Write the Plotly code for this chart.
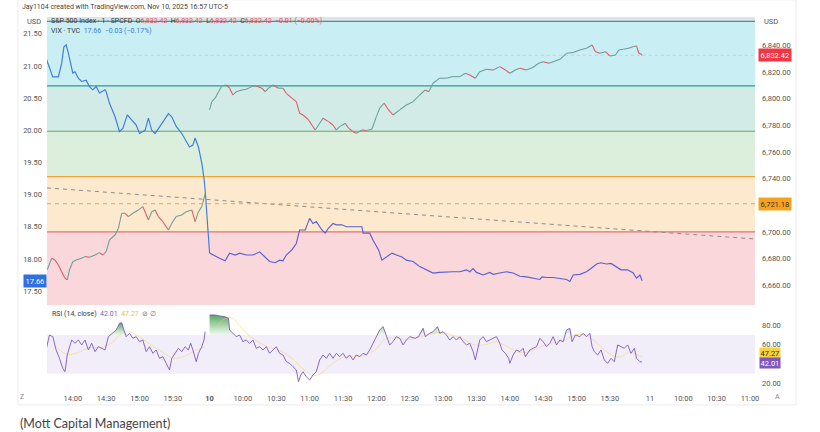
import plotly.graph_objects as go

TITLE = "Jay1104 created with TradingView.com, Nov 10, 2025 16:57 UTC-5"
CAPTION = "(Mott Capital Management)"

# ---------------- VIX (left axis) ----------------
VIX_D1_TIME = ["13:36","13:39","13:42","13:47","13:50","13:52","13:54","13:56","13:59","14:00","14:02","14:05",
               "14:08","14:12","14:15","14:18","14:21","14:24","14:29","14:30","14:33","14:38","14:42","14:45",
               "14:49","14:53","14:57","15:00","15:05","15:08","15:11","15:14","15:17","15:21","15:26","15:29",
               "15:33","15:38","15:42","15:45","15:48","15:50","15:53","15:56","15:58","15:59"]
VIX_D1 = [21.12,20.99,20.83,20.83,21.04,21.30,21.33,21.20,20.99,20.89,20.91,20.81,
          20.76,20.78,20.68,20.63,20.68,20.58,20.63,20.60,20.42,20.21,19.98,20.03,
          20.24,20.16,20.08,19.95,20.00,20.19,20.00,19.95,20.03,20.13,20.26,20.21,
          20.06,19.95,19.82,19.74,19.77,19.88,19.74,19.49,19.25,19.08]
VIX_D2_TIME = ["09:30","09:33","09:39","09:44","09:48","09:53","09:57","10:03","10:09","10:15","10:20","10:24",
               "10:29","10:33","10:36","10:39","10:44","10:48","10:51","10:56","11:00","11:03","11:06","11:11",
               "11:14","11:17","11:21","11:24","11:29","11:33","11:38","11:42","11:47","11:48","11:54","11:57",
               "12:02","12:05","12:09","12:14","12:18","12:23","12:27","12:33","12:39","12:45","12:51","12:57",
               "13:03","13:09","13:15","13:21","13:24","13:27","13:30","13:36","13:42","13:45","13:51","13:57",
               "14:03","14:09","14:15","14:21","14:27","14:29","14:33","14:39","14:45","14:51","14:54","14:57",
               "15:03","15:09","15:13","15:18","15:22","15:27","15:31","15:36","15:40","15:46","15:51","15:54",
               "15:57","15:59"]
VIX_D2 = [18.09,18.06,18.01,17.97,18.09,18.06,18.09,18.06,18.06,18.11,18.03,17.96,
          17.94,17.98,17.97,18.06,18.14,18.24,18.45,18.45,18.63,18.55,18.58,18.45,
          18.40,18.48,18.55,18.53,18.53,18.50,18.50,18.50,18.50,18.40,18.40,18.29,
          18.14,17.98,18.03,18.09,18.06,18.03,17.98,17.96,17.88,17.83,17.78,17.79,
          17.80,17.80,17.80,17.83,17.80,17.85,17.79,17.75,17.79,17.76,17.78,17.80,
          17.78,17.73,17.72,17.70,17.68,17.72,17.71,17.71,17.70,17.68,17.65,17.75,
          17.76,17.80,17.85,17.92,17.94,17.92,17.93,17.88,17.83,17.83,17.78,17.70,
          17.75,17.66]

# ---------------- S&P 500 CFD (right axis) ----------------
SPX_D1_TIME = ["13:37","13:41","13:44","13:47","13:50","13:53","13:55","13:57","14:00","14:03","14:08","14:11",
               "14:15","14:20","14:24","14:27","14:30","14:33","14:38","14:41","14:44","14:47","14:50","14:54",
               "14:59","15:03","15:08","15:11","15:14","15:17","15:21","15:26","15:29","15:33","15:38","15:42",
               "15:47","15:50","15:53","15:56","15:58","15:59"]
SPX_D1 = [6671.5,6680.3,6679.0,6675.2,6670.2,6665.3,6664.0,6671.5,6677.7,6679.0,6680.3,6681.5,
          6681.0,6682.7,6684.5,6682.7,6685.2,6694.0,6697.7,6702.8,6714.0,6714.0,6711.5,6714.0,
          6716.5,6719.0,6709.0,6715.2,6716.5,6711.5,6707.7,6701.5,6706.5,6711.5,6712.7,6715.2,
          6716.5,6707.7,6715.2,6719.0,6725.3,6728.5]
SPX_D2_TIME = ["09:30","09:32","09:35","09:38","09:41","09:45","09:48","09:51","09:54","09:59","10:03","10:08",
               "10:12","10:17","10:20","10:23","10:27","10:32","10:36","10:39","10:44","10:48","10:51","10:54",
               "10:59","11:02","11:05","11:08","11:12","11:17","11:21","11:24","11:27","11:32","11:35","11:39",
               "11:42","11:47","11:51","11:56","12:00","12:03","12:07","12:11","12:15","12:21","12:27","12:33",
               "12:39","12:44","12:47","12:51","12:57","13:03","13:09","13:15","13:20","13:24","13:29","13:33",
               "13:39","13:45","13:51","13:56","14:00","14:05","14:09","14:15","14:21","14:26","14:30","14:35",
               "14:39","14:45","14:51","14:57","15:03","15:09","15:14","15:17","15:21","15:26","15:30","15:35",
               "15:38","15:42","15:47","15:51","15:54","15:56","15:58","15:59"]
SPX_D2 = [6791.5,6797.7,6800.3,6805.2,6809.5,6810.2,6807.8,6802.7,6805.2,6806.5,6807.0,6809.0,
          6809.5,6807.8,6805.2,6807.8,6810.2,6807.8,6807.8,6804.0,6800.3,6797.7,6789.0,6787.7,
          6784.0,6780.2,6776.5,6780.2,6785.3,6782.7,6780.2,6776.5,6779.0,6781.5,6777.8,6775.2,
          6774.0,6776.5,6776.0,6777.0,6786.5,6792.8,6796.5,6791.5,6787.7,6791.5,6795.2,6797.7,
          6802.7,6806.5,6805.2,6811.5,6815.3,6815.3,6816.5,6816.5,6819.0,6817.7,6815.3,6820.2,
          6822.0,6821.5,6824.0,6821.5,6819.0,6821.5,6822.8,6821.5,6823.5,6826.5,6827.7,6826.5,
          6827.7,6829.5,6834.0,6834.5,6836.5,6837.8,6840.2,6835.2,6834.0,6835.2,6832.0,6832.7,
          6836.5,6837.0,6837.8,6839.0,6839.5,6834.0,6833.5,6832.42]

# ---------------- RSI (14, close) ----------------
RSI_D1_TIME = ["13:36","13:39","13:42","13:45","13:48","13:51","13:53","13:55","13:59","14:02","14:05","14:08",
               "14:11","14:14","14:17","14:20","14:23","14:26","14:29","14:32","14:36","14:39","14:42","14:44",
               "14:46","14:48","14:51","14:54","14:57","15:00","15:03","15:06","15:09","15:12","15:15","15:18",
               "15:21","15:24","15:27","15:29","15:32","15:35","15:38","15:41","15:44","15:46","15:48","15:51",
               "15:53","15:56","15:58","15:59"]
RSI_D1 = [54.6,70.1,68.4,54.6,45.9,35.6,32.0,49.4,64.9,61.5,64.9,59.8,
          64.9,54.6,61.5,52.8,58.0,56.3,54.6,68.4,71.9,75.3,82.3,82.9,
          75.3,68.4,71.9,66.7,68.4,63.2,64.9,52.8,58.0,51.1,54.6,45.9,
          47.6,40.7,33.8,45.9,51.1,56.3,52.8,58.0,54.6,61.5,54.6,42.4,
          51.1,58.0,64.9,73.6]
RSI_D2_TIME = ["09:30","09:35","09:39","09:44","09:47","09:48","09:51","09:54","09:57","10:00","10:03","10:06",
               "10:09","10:12","10:15","10:18","10:21","10:24","10:27","10:30","10:33","10:36","10:39","10:42",
               "10:45","10:48","10:50","10:52","10:54","10:57","11:00","11:03","11:06","11:09","11:12","11:15",
               "11:18","11:21","11:24","11:27","11:30","11:33","11:36","11:39","11:42","11:45","11:48","11:51",
               "11:54","11:57","12:00","12:03","12:06","12:09","12:12","12:15","12:18","12:21","12:24","12:27",
               "12:30","12:35","12:38","12:42","12:44","12:48","12:51","12:55","12:57","13:00","13:03","13:06",
               "13:09","13:12","13:15","13:18","13:21","13:24","13:27","13:29","13:31","13:33","13:36","13:39",
               "13:42","13:45","13:48","13:51","13:53","13:56","13:59","14:00","14:03","14:06","14:09","14:12",
               "14:14","14:18","14:21","14:24","14:27","14:30","14:33","14:36","14:39","14:42","14:45","14:48",
               "14:51","14:54","14:56","14:59","15:03","15:06","15:09","15:12","15:14","15:16","15:19","15:22",
               "15:25","15:28","15:31","15:34","15:37","15:40","15:43","15:46","15:49","15:52","15:54","15:57",
               "15:59"]
RSI_D2 = [90.9,90.9,89.9,89.1,87.5,75.3,71.9,68.4,70.1,63.2,64.9,61.5,
          64.9,56.3,58.0,54.6,58.0,51.1,54.6,58.0,51.1,49.4,42.4,40.7,
          37.2,33.8,21.6,28.6,32.0,26.8,23.4,28.6,32.0,44.2,49.4,45.9,
          51.1,45.9,51.1,47.6,51.1,45.9,49.4,44.2,49.4,47.6,51.1,49.4,
          54.6,61.5,68.4,75.3,78.8,68.4,59.8,63.2,68.4,66.7,59.8,64.9,
          68.4,66.7,68.4,77.1,68.4,71.9,73.6,78.8,71.9,73.6,70.1,64.9,
          68.4,64.9,68.4,63.2,59.8,61.5,52.8,44.2,56.3,64.9,68.4,63.2,
          64.9,66.7,68.4,61.5,54.6,51.1,45.9,40.7,49.4,54.6,52.8,56.3,
          47.6,54.6,56.3,58.0,66.7,63.2,58.0,61.5,68.4,59.8,64.9,63.2,
          75.3,77.1,63.2,70.1,68.4,71.9,68.4,71.9,58.0,52.8,49.4,54.6,
          44.2,40.7,45.9,42.4,59.8,58.0,56.3,59.8,51.1,56.3,45.9,42.4,
          42.01]
RSI_MA_D1_TIME = ["13:45","13:55","14:05","14:15","14:25","14:35","14:42","14:50","15:00","15:10","15:20","15:30",
                  "15:40","15:50","15:59"]
RSI_MA_D1 = [58,50,52,57,57,62,70,74,68,60,53,46,48,54,58]
RSI_MA_D2_TIME = ["09:35","09:42","09:50","09:57","10:05","10:15","10:25","10:35","10:45","10:55","11:03","11:10",
                  "11:20","11:30","11:40","11:50","12:00","12:08","12:18","12:28","12:38","12:48","12:58","13:08",
                  "13:18","13:28","13:38","13:48","13:58","14:08","14:18","14:28","14:38","14:48","14:58","15:08",
                  "15:18","15:28","15:38","15:48","15:59"]
RSI_MA_D2 = [76,86,88,80,70,62,57,53,45,34,28,30,
             40,47,48,49,56,66,67,65,68,71,73,70,
             66,60,60,63,58,52,53,58,62,64,70,70,
             62,52,47,52,47.27]

# ---------------- drawings / levels ----------------
FIB_LEVELS = [6857.9, 6809.5, 6775.5, 6741.5, 6700.0]
TREND_START, TREND_END = 6733.0, 6694.7
H_LEVEL = 6721.18
LAST_SPX, LAST_VIX, LAST_RSI, LAST_RSI_MA = 6832.42, 17.66, 42.01, 47.27
SPX_TICKS = [6840, 6820, 6800, 6780, 6760, 6740, 6700, 6680, 6660]
VIX_TICKS = [21.5, 21.0, 20.5, 20.0, 19.5, 19.0, 18.5, 18.0, 17.5]
RSI_TICKS = [80, 60, 20]
X_TICKS = [(1, "14:00", "14:00"), (1, "14:30", "14:30"), (1, "15:00", "15:00"), (1, "15:30", "15:30"),
           (2, "09:30", "<b>10</b>"), (2, "10:00", "10:00"), (2, "10:30", "10:30"), (2, "11:00", "11:00"),
           (2, "11:30", "11:30"), (2, "12:00", "12:00"), (2, "12:30", "12:30"), (2, "13:00", "13:00"),
           (2, "13:30", "13:30"), (2, "14:00", "14:00"), (2, "14:30", "14:30"), (2, "15:00", "15:00"),
           (2, "15:30", "15:30"), (3, "09:30", "11"), (3, "10:00", "10:00"), (3, "10:30", "10:30"),
           (3, "11:00", "11:00")]


def bar_index(day, hhmm):
    h, m = map(int, hhmm.split(":"))
    t = h * 60 + m
    if day == 1:
        return t - 960 - 3
    if day == 2:
        return t - 570
    return t - 570 + 396


def xs(day, times):
    return [bar_index(day, t) for t in times]


X0, X1 = -146.2, 490.5
SPX_RANGE = [6645.2, 6861.2]
VIX_RANGE = [17.283, 21.762]
RSI_RANGE = [13.0, 100.25]

fig = go.Figure()

# VIX lines
x1 = xs(1, VIX_D1_TIME) + [bar_index(2, VIX_D2_TIME[0])]
fig.add_trace(go.Scatter(x=x1, y=VIX_D1 + [VIX_D2[0]], mode="lines",
                         line=dict(color="#3b7ddd", width=1.15), xaxis="x", yaxis="y", hoverinfo="skip"))
fig.add_trace(go.Scatter(x=xs(2, VIX_D2_TIME), y=VIX_D2, mode="lines",
                         line=dict(color="#5d5fd0", width=1.15), xaxis="x", yaxis="y", hoverinfo="skip"))


# SPX: segments coloured by direction (1-minute candles look like this)
def segments(xv, yv):
    ux, uy, dx, dy = [], [], [], []
    for i in range(1, len(xv)):
        if yv[i] >= yv[i - 1]:
            ux += [xv[i - 1], xv[i], None]; uy += [yv[i - 1], yv[i], None]
        else:
            dx += [xv[i - 1], xv[i], None]; dy += [yv[i - 1], yv[i], None]
    return ux, uy, dx, dy


for day, tt, vv in [(1, SPX_D1_TIME, SPX_D1), (2, SPX_D2_TIME, SPX_D2)]:
    ux, uy, dx, dy = segments(xs(day, tt), vv)
    fig.add_trace(go.Scatter(x=ux, y=uy, mode="lines", line=dict(color="#6a9e98", width=1.05),
                             xaxis="x", yaxis="y2", hoverinfo="skip"))
    fig.add_trace(go.Scatter(x=dx, y=dy, mode="lines", line=dict(color="#e05866", width=1.05),
                             xaxis="x", yaxis="y2", hoverinfo="skip"))

# trend line + horizontal level
fig.add_trace(go.Scatter(x=[X0, X1], y=[TREND_START, TREND_END], mode="lines",
                         line=dict(color="#8c8c8c", width=1, dash="4px,4px"), xaxis="x", yaxis="y2",
                         hoverinfo="skip"))
fig.add_trace(go.Scatter(x=[X0, X1], y=[H_LEVEL, H_LEVEL], mode="lines",
                         line=dict(color="#f2a33a", width=1, dash="4px,4px"), xaxis="x", yaxis="y2",
                         hoverinfo="skip"))

# RSI overbought fill, RSI-MA and RSI line
for day, tt, vv in [(1, RSI_D1_TIME, RSI_D1), (2, RSI_D2_TIME, RSI_D2)]:
    xv = xs(day, tt)
    fig.add_trace(go.Scatter(x=xv, y=[70] * len(xv), mode="lines", line=dict(width=0),
                             xaxis="x2", yaxis="y3", hoverinfo="skip"))
    fig.add_trace(go.Scatter(x=xv, y=[max(v, 70) for v in vv], mode="lines", line=dict(width=0),
                             fill="tonexty", fillcolor="rgba(76,175,80,0.5)",
                             fillgradient=dict(type="vertical",
                                               colorscale=[[0, "rgba(76,175,80,0.08)"],
                                                           [1, "rgba(56,150,70,0.85)"]]),
                             xaxis="x2", yaxis="y3", hoverinfo="skip"))
for day, tt, vv in [(1, RSI_MA_D1_TIME, RSI_MA_D1), (2, RSI_MA_D2_TIME, RSI_MA_D2)]:
    fig.add_trace(go.Scatter(x=xs(day, tt), y=vv, mode="lines", line=dict(color="rgba(247,205,90,0.5)", width=1),
                             line_shape="spline", xaxis="x2", yaxis="y3", hoverinfo="skip"))
for day, tt, vv in [(1, RSI_D1_TIME, RSI_D1), (2, RSI_D2_TIME, RSI_D2)]:
    fig.add_trace(go.Scatter(x=xs(day, tt), y=vv, mode="lines", line=dict(color="#7e57c2", width=0.9),
                             xaxis="x2", yaxis="y3", hoverinfo="skip"))

# ---------------- shapes ----------------
band_colors = ["#dfe2e6", "#c9eef3", "#d3ebe7", "#dbefdc", "#fde9cd", "#f9d7db"]
line_colors = ["#2aa39a", "#2a9d8f", "#55ad63", "#f3a53a", "#e8706e"]
edges = [SPX_RANGE[1]] + FIB_LEVELS + [SPX_RANGE[0]]
shapes = []
for i, c in enumerate(band_colors):
    shapes.append(dict(type="rect", xref="x domain", yref="y2", x0=0, x1=1, y0=edges[i + 1], y1=edges[i],
                       fillcolor=c, line=dict(width=0), layer="below"))
for lv, c in zip(FIB_LEVELS, line_colors):
    shapes.append(dict(type="line", xref="x domain", yref="y2", x0=0, x1=1, y0=lv, y1=lv,
                       line=dict(color=c, width=1.2), layer="below"))
shapes.append(dict(type="line", xref="x domain", yref="y2", x0=0.045, x1=1, y0=LAST_SPX, y1=LAST_SPX,
                   line=dict(color="rgba(200,200,205,0.7)", width=1, dash="dot"), layer="below"))
shapes.append(dict(type="rect", xref="x2 domain", yref="y3", x0=0, x1=1, y0=30, y1=70,
                   fillcolor="rgba(126,87,194,0.1)", line=dict(width=0), layer="below"))
shapes.append(dict(type="rect", xref="paper", yref="paper", x0=-0.041, x1=1.058, y0=-0.040, y1=1.046,
                   fillcolor="rgba(0,0,0,0)", line=dict(color="#ececec", width=1), layer="below"))


def px_x(px):
    return (px - 47) / 708.0


def px_y(py):
    return (390 - py) / 373.0


TXT = "#3a3a3a"
RED = "#e8505f"
BLUE = "#3b7ddd"
ann = []
ann.append(dict(text=TITLE, xref="paper", yref="paper", x=px_x(20), y=px_y(7), xanchor="left",
                yanchor="middle", showarrow=False, font=dict(size=7, color="#444")))
ann.append(dict(text=CAPTION, xref="paper", yref="paper", x=px_x(18), y=px_y(423), xanchor="left",
                yanchor="middle", showarrow=False, font=dict(size=12.5, color="#444", family="Lato")))
ann.append(dict(text="USD", xref="paper", yref="paper", x=px_x(34), y=px_y(21), xanchor="center",
                yanchor="middle", showarrow=False, font=dict(size=7.5, color="#555")))
ann.append(dict(text="USD", xref="paper", yref="paper", x=px_x(771), y=px_y(21), xanchor="center",
                yanchor="middle", showarrow=False, font=dict(size=7.5, color="#555")))
spx_val = f"{LAST_SPX:,.2f}"
leg1 = ("S&P 500 Index · 1 · SPCFD  "
        + "".join(f"{k}<span style='color:{RED}'>{spx_val}</span>  " for k in "OHLC")
        + f"<span style='color:{RED}'>−0.01 (−0.00%)</span>")
ann.append(dict(text=leg1, xref="paper", yref="paper", x=px_x(49), y=px_y(21), xanchor="left",
                yanchor="middle", showarrow=False, font=dict(size=7, color=TXT)))
leg2 = f"VIX · TVC  <span style='color:{BLUE}'>{LAST_VIX:.2f}  −0.03 (−0.17%)</span>"
ann.append(dict(text=leg2, xref="paper", yref="paper", x=px_x(49), y=px_y(31), xanchor="left",
                yanchor="middle", showarrow=False, font=dict(size=7, color=TXT)))
leg3 = (f"RSI (14, close)  <span style='color:#7e57c2'>{LAST_RSI:.2f}</span>  "
        f"<span style='color:#f2c230'>{LAST_RSI_MA:.2f}</span>  <span style='color:#777'>⊘ ∅</span>")
ann.append(dict(text=leg3, xref="paper", yref="paper", x=px_x(50), y=px_y(314), xanchor="left",
                yanchor="middle", showarrow=False, font=dict(size=7, color=TXT)))
# price tags
ann.append(dict(text=f"{LAST_SPX:,.2f}", xref="paper", yref="y2", x=px_x(758), y=LAST_SPX, xanchor="left",
                yanchor="middle", showarrow=False, bgcolor="#f23645", borderpad=1.5,
                font=dict(size=7.5, color="white")))
ann.append(dict(text=f"{H_LEVEL:,.2f}", xref="paper", yref="y2", x=px_x(758), y=H_LEVEL, xanchor="left",
                yanchor="middle", showarrow=False, bgcolor="#f7a21b", borderpad=1.5,
                font=dict(size=7.5, color="#333")))
ann.append(dict(text=f"{LAST_VIX:.2f}", xref="paper", yref="y", x=px_x(46.5), y=LAST_VIX, xanchor="right",
                yanchor="middle", showarrow=False, bgcolor="#2f6fe4", borderpad=1.5,
                font=dict(size=7.5, color="white")))
ann.append(dict(text=f"{LAST_RSI_MA:.2f}", xref="paper", yref="y3", x=px_x(759), y=LAST_RSI_MA, yshift=4.5,
                xanchor="left", yanchor="middle", showarrow=False, bgcolor="#f7d23b", borderpad=0.5,
                font=dict(size=7.5, color="#333")))
ann.append(dict(text=f"{LAST_RSI:.2f}", xref="paper", yref="y3", x=px_x(759), y=LAST_RSI, yshift=-0.5,
                xanchor="left", yanchor="middle", showarrow=False, bgcolor="#7e57c2", borderpad=0.5,
                font=dict(size=7.5, color="white")))
ann.append(dict(text="Z", xref="paper", yref="paper", x=px_x(22), y=px_y(397), xanchor="center",
                yanchor="middle", showarrow=False, font=dict(size=7, color="#888")))
ann.append(dict(text="A", xref="paper", yref="paper", x=px_x(777), y=px_y(397), xanchor="center",
                yanchor="middle", showarrow=False, font=dict(size=7, color="#888")))

main_dom = [(390 - 305) / 373.0, 1.0]
rsi_dom = [0.0, (390 - 306) / 373.0]
tick_font = dict(size=7.5, color="#555")

fig.update_layout(
    width=820, height=432, margin=dict(l=47, r=65, t=17, b=42),
    paper_bgcolor="white", plot_bgcolor="white", showlegend=False,
    font=dict(family="Roboto", size=8, color="#444"),
    shapes=shapes, annotations=ann,
    xaxis=dict(domain=[0, 1], anchor="y", range=[X0, X1], showticklabels=False, showgrid=False,
               zeroline=False, showline=False, ticks=""),
    xaxis2=dict(domain=[0, 1], anchor="y3", matches="x", range=[X0, X1],
                tickvals=[bar_index(d, t) for d, t, _ in X_TICKS], ticktext=[l for _, _, l in X_TICKS],
                showgrid=False, zeroline=False, showline=False, ticks="", tickfont=tick_font,
                ticklabelstandoff=2),
    yaxis=dict(domain=main_dom, anchor="x", side="left", range=VIX_RANGE, tickvals=VIX_TICKS,
               tickformat=".2f", showgrid=False, zeroline=False, showline=False, ticks="",
               tickfont=tick_font, ticklabelstandoff=4),
    yaxis2=dict(overlaying="y", anchor="x", side="right", range=SPX_RANGE, tickvals=SPX_TICKS,
                tickformat=",.2f", showgrid=False, zeroline=False, showline=False, ticks="",
                tickfont=tick_font, ticklabelstandoff=6),
    yaxis3=dict(domain=rsi_dom, anchor="x2", side="right", range=RSI_RANGE, tickvals=RSI_TICKS,
                tickformat=".2f", showgrid=False, zeroline=False, showline=False, ticks="",
                tickfont=tick_font, ticklabelstandoff=6),
)

fig.write_html("out.html")
